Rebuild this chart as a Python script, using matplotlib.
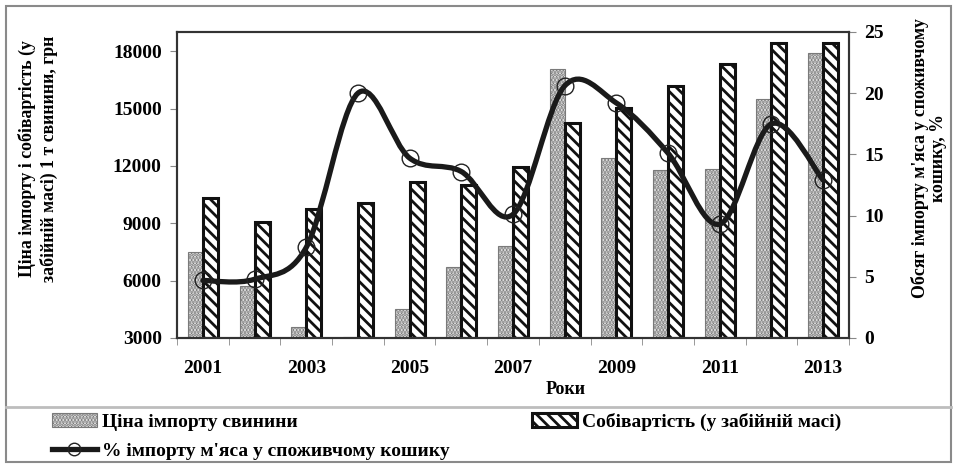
import matplotlib
matplotlib.use("Agg")
import matplotlib.pyplot as plt
from matplotlib.path import Path
from matplotlib.patches import PathPatch, Patch, Rectangle
from matplotlib.lines import Line2D
import numpy as np

# data
years = [2001, 2002, 2003, 2004, 2005, 2006, 2007, 2008, 2009, 2010, 2011, 2012, 2013]
import_price = [7500, 5700, 3600, 3050, 4500, 6700, 7800, 17050, 12400, 11800, 11850, 15500, 17900]
cost_price = [10300, 9050, 9750, 10050, 11150, 11000, 11950, 14250, 15050, 16200, 17350, 18400, 18450]
import_share = [4.7, 4.8, 7.4, 20.0, 14.7, 13.6, 10.1, 20.6, 19.2, 15.1, 9.3, 17.5, 12.9]
tick_years = [2001, 2003, 2005, 2007, 2009, 2011, 2013]

label_price = 'Ціна імпорту свинини'
label_cost = 'Собівартість (у забійній масі)'
label_share = "% імпорту м'яса у споживчому кошику"

plt.rcParams['font.family'] = ['Liberation Serif', 'DejaVu Serif']
plt.rcParams['font.weight'] = 'bold'
plt.rcParams['hatch.linewidth'] = 2.0


def smooth_path(xs, ys):
    """Excel-like smoothed line: Catmull-Rom converted to cubic Bezier segments."""
    pts = np.column_stack([xs, ys]).astype(float)
    n = len(pts)
    verts = [pts[0]]
    codes = [Path.MOVETO]
    for i in range(n - 1):
        p0 = pts[i - 1] if i > 0 else pts[i]
        p1 = pts[i]
        p2 = pts[i + 1]
        p3 = pts[i + 2] if i + 2 < n else pts[i + 1]
        c1 = p1 + (p2 - p0) / 6.0
        c2 = p2 - (p3 - p1) / 6.0
        verts += [c1, c2, p2]
        codes += [Path.CURVE4] * 3
    return Path(verts, codes)


fig = plt.figure(figsize=(9.57, 4.70), dpi=100)
ax = fig.add_axes([177 / 957, 1 - 338 / 470, (849 - 177) / 957, (338 - 32) / 470])
ax2 = ax.twinx()

x = np.arange(len(years))
w = 0.29

dot_face, dot_edge = '#f2f2f2', '#7a7a7a'
ax.bar(x - w / 2, [v - 3000 for v in import_price], w, bottom=3000,
       facecolor=dot_face, edgecolor=dot_edge, linewidth=0.8, hatch='.....', zorder=2)
ax.bar(x + w / 2, [v - 3000 for v in cost_price], w, bottom=3000,
       facecolor='white', edgecolor='#111111', linewidth=2.2, hatch='\\\\\\', zorder=2)

ax.set_xlim(-0.5, len(years) - 0.5)
ax.set_ylim(3000, 19000)
ax.set_yticks([3000, 6000, 9000, 12000, 15000, 18000])
ax.set_xticks([years.index(y) for y in tick_years])
ax.set_xticklabels([str(y) for y in tick_years])
ax.set_xticks(np.arange(len(years) + 1) - 0.5, minor=True)
ax.tick_params(axis='x', which='major', length=0, pad=16, labelsize=14)
ax.tick_params(axis='x', which='minor', length=5, color='#888888', direction='out')
ax.tick_params(axis='y', length=5, color='#888888', labelsize=14, pad=6)

ax2.set_ylim(0, 25)
ax2.set_yticks([0, 5, 10, 15, 20, 25])
ax2.tick_params(axis='y', length=5, color='#888888', labelsize=14, pad=6)

line = PathPatch(smooth_path(x, import_share), transform=ax2.transData,
                 fill=False, edgecolor='#1a1a1a', linewidth=3.8,
                 capstyle='round', joinstyle='round', zorder=3)
ax2.add_patch(line)
ax2.plot(x, import_share, linestyle='none', marker='o', markersize=12,
         markerfacecolor='none', markeredgecolor='#222222', markeredgewidth=1.0, zorder=4)

for a in (ax, ax2):
    for s in a.spines.values():
        s.set_color('#333333')
        s.set_linewidth(1.5)

# axis titles
fig.text(38 / 957, 1 - 159 / 470, 'Ціна імпорту і собівартість (у\nзабійній масі) 1 т свинини, грн',
         rotation=90, ha='center', va='center', fontsize=12.8, fontweight='bold',
         linespacing=1.25, multialignment='center')
fig.text(929 / 957, 1 - 158 / 470, "Обсяг імпорту м'яса у споживчому\nкошику, %",
         rotation=90, ha='center', va='center', fontsize=12.8, fontweight='bold',
         linespacing=1.02, multialignment='center')
fig.text(566 / 957, 1 - 390 / 470, 'Роки', ha='center', va='center', fontsize=13,
         fontweight='bold')

# outer frame and separator
fig.add_artist(Rectangle((6 / 957, 8 / 470), 945 / 957, 456 / 470, transform=fig.transFigure,
                         fill=False, edgecolor='#8a8a8a', linewidth=1.5))
fig.add_artist(Line2D([6 / 957, 951 / 957], [1 - 407 / 470] * 2, transform=fig.transFigure,
                      color='#bdbdbd', linewidth=2))

h_price = Patch(facecolor=dot_face, edgecolor=dot_edge, hatch='.....', linewidth=0.8)
h_cost = Patch(facecolor='white', edgecolor='#111111', hatch='\\\\\\', linewidth=2.2)
h_share = Line2D([], [], color='#1a1a1a', linewidth=3.8, marker='o', markersize=9,
                 markerfacecolor='none', markeredgecolor='#222222')

leg_kw = dict(frameon=False, fontsize=14,
              handlelength=2.3, handleheight=0.72, handletextpad=0.25, labelspacing=0.6,
              borderaxespad=0, borderpad=0)
leg1 = fig.legend([h_price, h_share], [label_price, label_share], loc='upper left',
                  bbox_to_anchor=(52 / 957, 1 - 413 / 470), **leg_kw)
leg2 = fig.legend([h_cost], [label_cost], loc='upper left',
                  bbox_to_anchor=(532 / 957, 1 - 413 / 470), **leg_kw)
for leg in (leg1, leg2):
    for t in leg.get_texts():
        t.set_fontfamily(['Liberation Serif', 'DejaVu Serif'])
        t.set_fontweight('bold')

plt.savefig('out.png', dpi=100)
plt.close()
